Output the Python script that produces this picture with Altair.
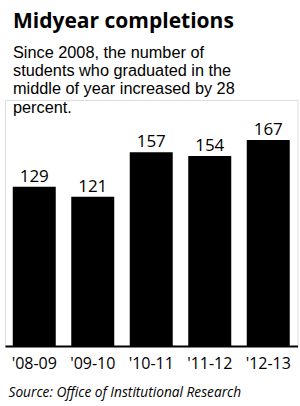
import altair as alt
import pandas as pd

years = ["'08-09", "'09-10", "'10-11", "'11-12", "'12-13"]
counts = [129, 121, 157, 154, 167]

title_text = "Midyear completions"
subtitle_lines = [
    "Since 2008, the number of",
    "students who graduated in the",
    "middle of year increased by 28",
    "percent.",
]
source_text = "Source: Office of Institutional Research"

df = pd.DataFrame({"year": years, "count": counts})

FONT = "Open Sans"
SUBFONT = "Liberation Sans"

base = alt.Chart(df).encode(
    x=alt.X(
        "year:N",
        sort=years,
        scale=alt.Scale(paddingInner=0.265, paddingOuter=0.1325),
        axis=alt.Axis(
            title=source_text,
            titleFont=FONT,
            titleFontSize=13.7,
            titleFontStyle="italic",
            titleFontWeight="normal",
            titleColor="#000",
            titleAlign="left",
            titleAnchor="start",
            titleBaseline="alphabetic",
            titleX=3,
            titleY=50,
            labelFont=FONT,
            labelFontSize=16,
            labelColor="#000",
            labelAngle=0,
            labelPadding=9,
            ticks=False,
            domainColor="#000",
            domainWidth=2,
            grid=False,
        ),
    ),
    y=alt.Y("count:Q", scale=alt.Scale(domain=[0, 199.4], nice=False, zero=True), axis=None),
)

bars = base.mark_bar(color="#000")
labels = base.mark_text(dy=-5, baseline="alphabetic", font=FONT, fontSize=17, color="#000").encode(
    text="count:Q"
)

chart = (
    alt.layer(bars, labels)
    .properties(
        width=292.5,
        height=246,
        autosize=alt.AutoSizeParams(type="none"),
        padding={"left": 5, "right": 2.5, "top": 100, "bottom": 60},
        title=alt.TitleParams(
            text=title_text,
            subtitle=subtitle_lines,
            anchor="start",
            frame="group",
            dx=8,
            offset=-16,
            font=FONT,
            fontSize=21,
            fontWeight="bold",
            color="#000",
            subtitleFont=SUBFONT,
            subtitleFontSize=16.3,
            subtitleColor="#000",
            subtitleLineHeight=18.3,
            subtitlePadding=13,
        ),
    )
    .configure_view(stroke=None)
    .configure(background="white")
)

chart.save("out.html", embed_options={"renderer": "svg", "actions": False})
